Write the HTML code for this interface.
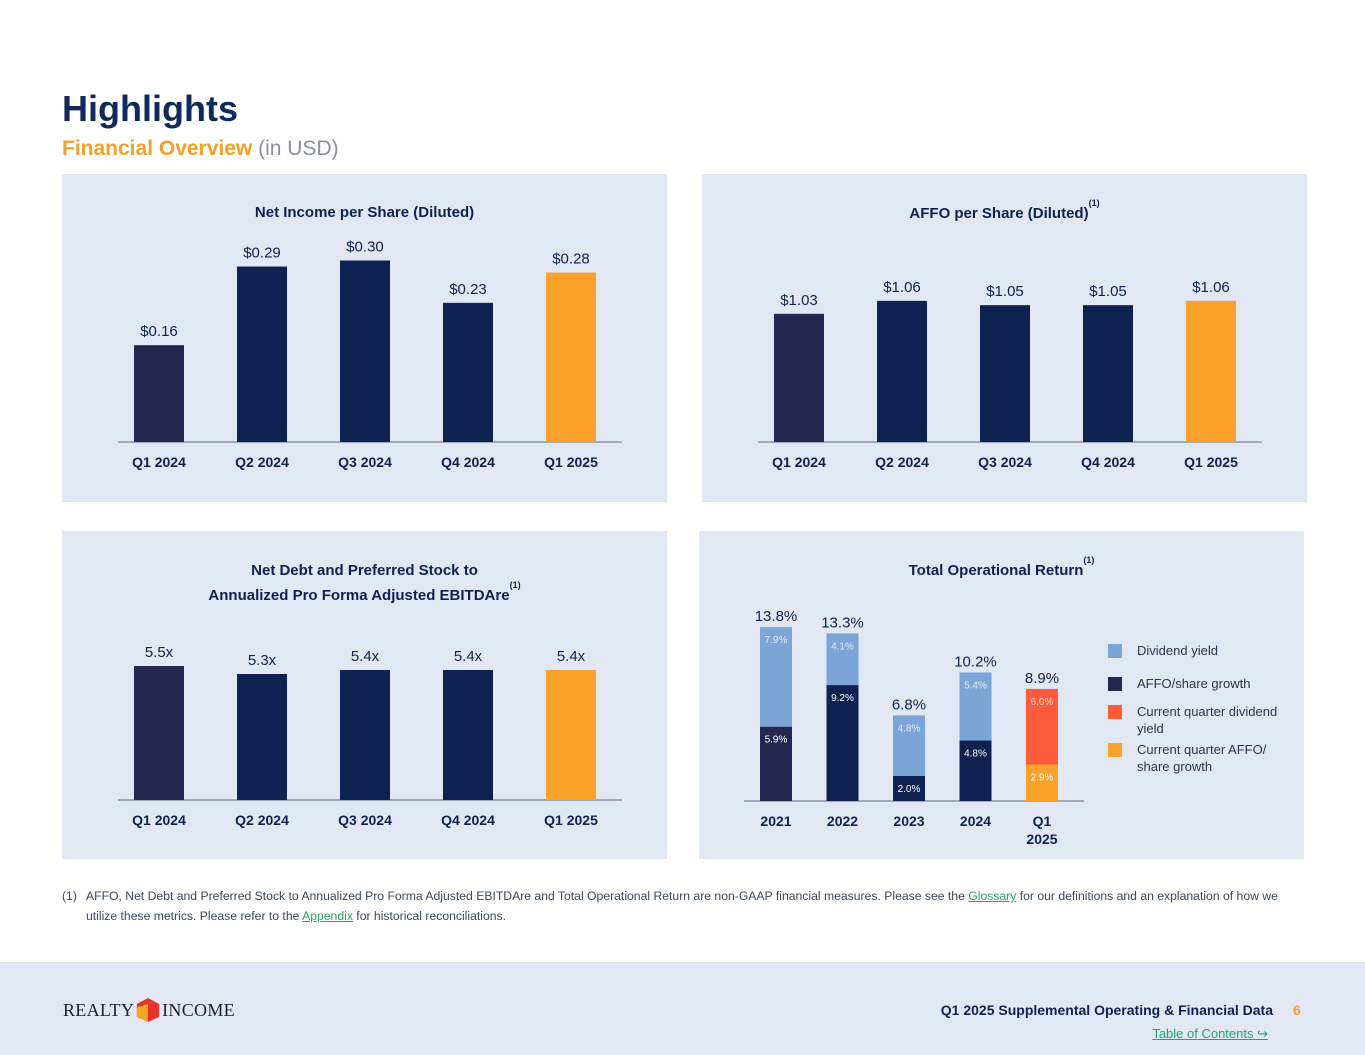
<!DOCTYPE html>
<html><head><meta charset="utf-8">
<style>
body{margin:0;width:1365px;height:1055px;background:#fff;font-family:"Liberation Sans",sans-serif;position:relative;overflow:hidden;color:#0f2150}
.abs{position:absolute}
.panel{position:absolute;background:#e1e8f4}
.ttl{position:absolute;font-weight:bold;font-size:15px;color:#0f2150;text-align:center}
svg text{font-family:"Liberation Sans",sans-serif}
</style></head><body>
<div class="abs" style="left:62px;top:88px;font-size:36px;font-weight:bold;color:#0f2a5c">Highlights</div>
<div class="abs" style="left:62px;top:137px;font-size:21px;font-weight:bold;color:#f5a023">Financial Overview <span style="font-weight:normal;color:#8a8f99">(in USD)</span></div>

<div class="panel" style="left:62px;top:174px;width:605px;height:328px"></div>
<div class="panel" style="left:702px;top:174px;width:605px;height:328px"></div>
<div class="panel" style="left:62px;top:531px;width:605px;height:328px"></div>
<div class="panel" style="left:699px;top:531px;width:605px;height:328px"></div>

<div class="ttl" style="left:62px;width:605px;top:204px">Net Income per Share (Diluted)</div>
<div class="ttl" style="left:702px;width:605px;top:204px">AFFO per Share (Diluted)<sup style="font-size:9px;position:relative;top:-6px">(1)</sup></div>
<div class="ttl" style="left:62px;width:605px;top:561px;line-height:20px">Net Debt and Preferred Stock to<br>Annualized Pro Forma Adjusted EBITDAre<sup style="font-size:9px;position:relative;top:-6px">(1)</sup></div>
<div class="ttl" style="left:699px;width:605px;top:561px">Total Operational Return<sup style="font-size:9px;position:relative;top:-6px">(1)</sup></div>

<svg id="chart" class="abs" style="left:0;top:0" width="1365" height="1055"></svg>

<div class="abs" style="left:62px;top:886px;width:1220px;font-size:12.2px;line-height:20px;color:#3a4560">
<span style="position:absolute;left:0">(1)</span><div style="margin-left:24px">AFFO, Net Debt and Preferred Stock to Annualized Pro Forma Adjusted EBITDAre and Total Operational Return are non-GAAP financial measures. Please see the <span style="color:#2aa36b;text-decoration:underline">Glossary</span> for our definitions and an explanation of how we utilize these metrics. Please refer to the <span style="color:#2aa36b;text-decoration:underline">Appendix</span> for historical reconciliations.</div></div>

<div class="abs" style="left:0;top:962px;width:1365px;height:93px;background:#e1e8f4"></div>
<div class="abs" style="left:63px;top:996px;font-family:'Liberation Serif',serif;font-size:18px;letter-spacing:0.3px;color:#1a1f33;display:flex;align-items:center">REALTY<svg width="24" height="28" viewBox="0 0 28 30" style="margin:0 2px"><polygon points="14,1 27,8 27,23 14,29 1,23 1,8" fill="#e8322a"/><polygon points="14,8 14,29 1,23 1,12" fill="#f6a623"/></svg>INCOME</div>
<div class="abs" style="left:900px;width:373px;text-align:right;top:1002px;font-size:14px;font-weight:bold;color:#0f2150">Q1 2025 Supplemental Operating &amp; Financial Data</div>
<div class="abs" style="left:1293px;top:1002px;font-size:14px;font-weight:bold;color:#f5a023">6</div>
<div class="abs" style="left:1100px;width:168px;text-align:right;top:1026px;font-size:13px;color:#2aa36b;text-decoration:underline">Table of Contents ↪</div>

<script>
const quarters=["Q1 2024","Q2 2024","Q3 2024","Q4 2024","Q1 2025"];
const netIncome=[0.16,0.29,0.30,0.23,0.28];
const netIncomeLabels=["$0.16","$0.29","$0.30","$0.23","$0.28"];
const affo=[1.03,1.06,1.05,1.05,1.06];
const affoLabels=["$1.03","$1.06","$1.05","$1.05","$1.06"];
const leverage=[5.5,5.3,5.4,5.4,5.4];
const leverageLabels=["5.5x","5.3x","5.4x","5.4x","5.4x"];
const years=["2021","2022","2023","2024","Q1|2025"];
const affoGrowth=[5.9,9.2,2.0,4.8,2.9];
const divYield=[7.9,4.1,4.8,5.4,6.0];
const totals=["13.8%","13.3%","6.8%","10.2%","8.9%"];

const svg=document.getElementById('chart');
const NS='http://www.w3.org/2000/svg';
function mk(tag,attrs,parent){const e=document.createElementNS(NS,tag);for(const k in attrs)e.setAttribute(k,attrs[k]);(parent||svg).appendChild(e);return e;}
function colors(i){return i===0?'#262650':(i===4?'#fba02a':'#0f2150');}

function barChart(name,x0,base,k,b,vals,labels,w){
  const y=v=>base-(v-b)*k;
  const xc=i=>x0+i*103;
  const ax=mk('line',{x1:x0-41,x2:x0+463,y1:base,y2:base,stroke:'#8a93a6','stroke-width':1.5});
  
  
  vals.forEach((v,i)=>{
    const r=mk('rect',{x:xc(i)-w/2,y:y(v),width:w,height:base-y(v),fill:colors(i)});
    
    
    const t=mk('text',{x:xc(i),y:y(v)-9,'text-anchor':'middle','font-size':15,fill:'#0f2150'});
    t.textContent=labels[i];
    
    
    const c=mk('text',{x:xc(i),y:base+25,'text-anchor':'middle','font-size':14,'font-weight':'bold',fill:'#0f2150'});
    c.textContent=quarters[i];
    
    
  });
}
barChart('net-income',159,442,605,0,netIncome,netIncomeLabels,50);
barChart('affo',799,442,433,0.734,affo,affoLabels,50);
barChart('leverage',159,800,40,2.15,leverage,leverageLabels,50);

(function(){
  const base=801,k=12.6,w=32;
  const xc=i=>776+i*66.5;
  const ax=mk('line',{x1:744,x2:1084,y1:base,y2:base,stroke:'#8a93a6','stroke-width':1.5});
  
  
  years.forEach((yr,i)=>{
    const last=i===4;
    const h1=affoGrowth[i]*k,h2=divYield[i]*k;
    const bc=last?'#fba02a':(i===0?'#262650':'#0f2150');
    const tc=last?'#ff5a3c':'#7aa5d6';
    const r1=mk('rect',{x:xc(i)-w/2,y:base-h1,width:w,height:h1,fill:bc});
    
    
    const r2=mk('rect',{x:xc(i)-w/2,y:base-h1-h2,width:w,height:h2,fill:tc});
    
    
    const l1=mk('text',{x:xc(i),y:Math.min(base-h1+16,base-3),'text-anchor':'middle','font-size':10,fill:'#fff'});
    l1.textContent=affoGrowth[i].toFixed(1)+'%';
    
    
    const l2=mk('text',{x:xc(i),y:base-h1-h2+16,'text-anchor':'middle','font-size':10,fill:last?'#fde1d8':'#e5eefa'});
    l2.textContent=divYield[i].toFixed(1)+'%';
    
    
    const tt=mk('text',{x:xc(i),y:base-h1-h2-6,'text-anchor':'middle','font-size':15,fill:'#0f2150'});
    tt.textContent=totals[i];
    
    
    yr.split('|').forEach((p,j)=>{
      const c=mk('text',{x:xc(i),y:base+25+j*18,'text-anchor':'middle','font-size':14,'font-weight':'bold',fill:'#0f2150'});
      c.textContent=p;
      
      
    });
  });
  const leg=[['#7aa5d6',['Dividend yield'],651],['#262650',['AFFO/share growth'],684],['#ff5a3c',['Current quarter dividend','yield'],712],['#fba02a',['Current quarter AFFO/','share growth'],750]];
  leg.forEach((L,i)=>{
    const s=mk('rect',{x:1108,y:L[2]-7,width:14,height:14,fill:L[0]});
    
    
    L[1].forEach((line,j)=>{
      const t=mk('text',{x:1137,y:L[2]+4+j*17,'font-size':13,fill:'#2a3550'});
      t.textContent=line;
      
      
    });
  });
})();
</script>
</body></html>
